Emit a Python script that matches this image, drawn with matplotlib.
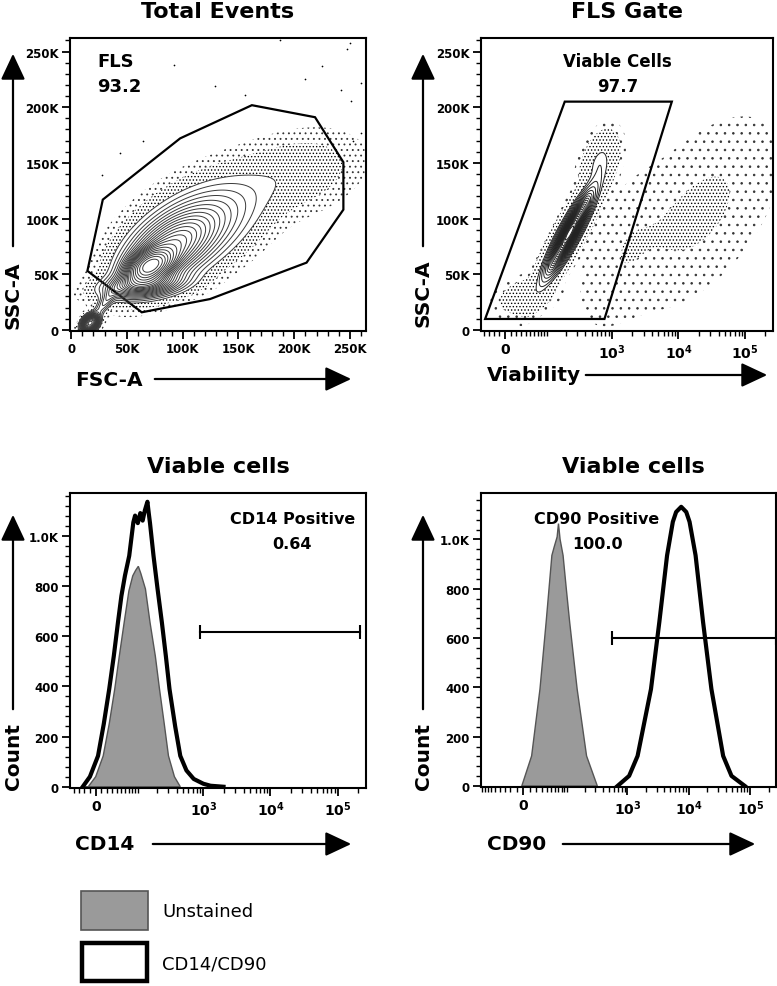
import numpy as np
import matplotlib
matplotlib.use('Agg')
import matplotlib.pyplot as plt
from matplotlib.patches import Rectangle, Polygon, FancyArrowPatch

plt.rcParams['font.family'] = 'DejaVu Sans'
plt.rcParams['mathtext.default'] = 'bf'
plt.rcParams['hatch.color'] = 'black'
plt.rcParams['hatch.linewidth'] = 0.6

W, H = 777, 987

# ---- labels
titles = ['Total Events', 'FLS Gate', 'Viable cells', 'Viable cells']
xlabels = ['FSC-A', 'Viability', 'CD14', 'CD90']
ylabels = ['SSC-A', 'SSC-A', 'Count', 'Count']
gate_names = ['FLS', 'Viable Cells', 'CD14 Positive', 'CD90 Positive']
gate_values = ['93.2', '97.7', '0.64', '100.0']
legend_labels = ['Unstained', 'CD14/CD90']

# ---- scatter axes ticks (in K)
scatter_ticks = [0, 50, 100, 150, 200, 250]
scatter_ticklabels = ['0', '50K', '100K', '150K', '200K', '250K']
biex_ticks = [0, 1e3, 1e4, 1e5]
biex_ticklabels = ['0', '$10^3$', '$10^4$', '$10^5$']
count_ticks = [0, 200, 400, 600, 800, 1000]
count_ticklabels = ['0', '200', '400', '600', '800', '1.0K']

# ---- FLS gate polygon (FSC-A K, SSC-A K)
fls_gate_x = [14.6, 63.3, 124.5, 211, 244, 244, 218.6, 162, 97.7, 28.4]
fls_gate_y = [53, 15.8, 27.7, 60.4, 108, 150.6, 191, 201.8, 172, 117]

# ---- viable gate (Viability, SSC-A K)
viable_gate_x = [-37, 776, 7960, 194]
viable_gate_y = [9.8, 9.8, 205, 205]

# ---- populations seen in FSC/SSC: centre, spread (K), correlation, weight
fsc_cx = [70, 85, 112, 65, 17, 30, 200]
fsc_cy = [57, 70, 92, 40, 6, 24, 140]
fsc_sx = [12, 24, 34, 22, 4.5, 7, 35]
fsc_sy = [9, 20, 26, 7, 4.5, 9, 22]
fsc_r = [0.4, 0.5, 0.5, 0.3, 0.3, 0.8, 0.3]
fsc_w = [0.6, 1.0, 1.1, 0.3, 0.12, 0.03, 0.2]

# ---- populations in Viability/SSC: centre, spread (decades, K), correlation, weight
via_cx = [230, 650, 20000, 40, 1500]
via_cy = [87, 150, 105, 30, 70]
via_su = [0.2, 0.12, 0.6, 0.2, 0.35]
via_sy = [21, 12, 42, 8, 35]
via_r = [0.9, 0.4, 0.55, 0.3, 0.5]
via_w = [1.0, 0.05, 0.04, 0.015, 0.012]

# ---- outlier events
fsc_out_x = [187, 250, 247, 225, 210, 92, 129, 156, 57, 44, 27.5, 64.5, 260, 251, 242, 260, 253]
fsc_out_y = [260, 258, 252, 237, 225, 238, 219, 211, 217, 159, 139, 170, 222, 206, 215, 177, 170]

# ---- histograms
cd14_unst_x = [-20, -13, 0, 13, 24, 35, 45, 57, 70, 82, 92, 102, 112, 133, 157, 190, 220, 260, 301, 370, 453]
cd14_unst_y = [0, 0, 40, 123, 250, 389, 520, 655, 780, 840, 862, 878, 850, 788, 655, 520, 389, 250, 123, 40, 0]
cd14_stain_x = [-23, -10, 4, 14, 24, 33, 42, 50, 59, 71, 84, 90, 100, 110, 120, 130, 143, 150, 157, 178, 205,
                239, 275, 312, 380, 453, 560, 720, 1000, 1280, 2000]
cd14_stain_y = [0, 40, 123, 250, 389, 520, 655, 760, 841, 920, 1053, 1080, 1050, 1090, 1060, 1100, 1135, 1090,
                1050, 920, 790, 655, 520, 389, 240, 123, 65, 31, 12, 4, 0]
cd90_unst_x = [-2, 13, 27, 39, 52, 58, 66, 70, 75, 85, 97, 111, 149, 214, 322]
cd90_unst_y = [0, 122, 393, 665, 935, 970, 1010, 1064, 1000, 935, 800, 665, 393, 122, 0]
cd90_stain_x = [687, 1064, 1462, 2416, 3304, 4416, 5480, 6200, 7500, 9060, 10260, 12860, 17020, 23280, 36140,
                49440, 81660]
cd90_stain_y = [0, 41, 122, 393, 665, 935, 1071, 1111, 1132, 1111, 1071, 935, 665, 393, 122, 41, 0]
cd14_bar_x = [885, 214000]
cd14_bar_y = 617
cd90_bar_x = [569, 262144]
cd90_bar_y = 600

GRAY = '#9a9a9a'


def biex(v, a=50):
    return np.arcsinh(np.asarray(v, float) / a) / np.log(10)


def inv_biex(u, a=50):
    return a * np.sinh(np.asarray(u) * np.log(10))


def mixture(gx, gy, cx, cy, sx, sy, rr, ww):
    z = np.zeros_like(gx)
    for a, b, s, t, r, w in zip(cx, cy, sx, sy, rr, ww):
        dx = (gx - a) / s
        dy = (gy - b) / t
        q = (dx ** 2 - 2 * r * dx * dy + dy ** 2) / (1 - r ** 2)
        z += w / (s * t * np.sqrt(1 - r ** 2)) * np.exp(-q / 2)
    return z


def prob_levels(z, probs):
    zs = np.sort(z.ravel())[::-1]
    c = np.cumsum(zs)
    c /= c[-1]
    return [zs[min(np.searchsorted(c, p), len(zs) - 1)] for p in probs]


def px_rect(left, top, right, bottom):
    return [left / W, 1 - bottom / H, (right - left) / W, (bottom - top) / H]


def ftxt(x, y, s, **kw):
    fig.text(x / W, 1 - y / H, s, **kw)


def farrow(x0, y0, x1, y1):
    fig.add_artist(FancyArrowPatch((x0 / W, 1 - y0 / H), (x1 / W, 1 - y1 / H),
                                   transform=fig.transFigure, arrowstyle='-|>,head_length=1.6,head_width=0.75',
                                   mutation_scale=10, lw=1.6, color='black'))


def dots(ax, x, y, z, lo, hi, pattern, color='black'):
    with plt.rc_context({'hatch.color': color}):
        ax.contourf(x, y, z, levels=[lo, hi], colors='none', hatches=[pattern])


def style_axes(ax, xsize=8.5):
    for s in ax.spines.values():
        s.set_linewidth(1.5)
    ax.tick_params(which='major', direction='out', length=6, width=1.3, labelsize=8.5, pad=2)
    ax.tick_params(axis='x', which='major', labelsize=xsize)
    ax.tick_params(which='minor', direction='out', length=3.5, width=1.0)
    for lab in ax.get_xticklabels() + ax.get_yticklabels():
        lab.set_fontweight('bold')


def biex_axis(ax, a, lo):
    ax.set_xscale('asinh', linear_width=a)
    ax.set_xlim(lo, 262144)
    ax.set_xticks(biex_ticks, biex_ticklabels)
    minors = [-90, -80, -70, -60, -50, -40, -30, -20, -10] + list(range(10, 100, 10)) + \
        [m * 10 ** d for d in (2, 3, 4) for m in range(1, 10) if m * 10 ** d not in biex_ticks] + [200000]
    ax.set_xticks([m for m in minors if m > lo], minor=True)


def scatter_yaxis(ax):
    ax.set_ylim(-1, 262.144)
    ax.set_yticks(scatter_ticks, scatter_ticklabels)
    ax.set_yticks([v for v in range(10, 261, 10) if v % 50], minor=True)


fig = plt.figure(figsize=(W / 100, H / 100), dpi=100)

# ---------------- panel 1: FSC/SSC
ax1 = fig.add_axes(px_rect(70, 39, 365.7, 332))
gx, gy = np.meshgrid(np.linspace(-1, 263, 530), np.linspace(-1, 263, 530))
z1 = mixture(gx, gy, fsc_cx, fsc_cy, fsc_sx, fsc_sy, fsc_r, fsc_w)
lv = prob_levels(z1, [0.99, 0.965, 0.885] + list(np.arange(0.845, 0.02, -0.04)))
dots(ax1, gx, gy, z1, lv[0], lv[1], '...', '#333333')
dots(ax1, gx, gy, z1, lv[1], lv[2], '.....')
ax1.contour(gx, gy, z1, levels=lv[2:], colors='#3a3a3a', linewidths=0.7)
ax1.scatter(fsc_out_x, fsc_out_y, s=1.5, color='black', lw=0)
ax1.add_patch(Polygon(np.column_stack([fls_gate_x, fls_gate_y]), closed=True, fill=False, ec='black', lw=1.6))
ax1.set_xlim(-1, 264)
ax1.set_xticks(scatter_ticks, scatter_ticklabels)
ax1.set_xticks([v for v in range(10, 261, 10) if v % 50], minor=True)
scatter_yaxis(ax1)
style_axes(ax1)

# ---------------- panel 2: Viability/SSC
ax2 = fig.add_axes(px_rect(480.7, 39, 773, 332))
uu, gy2 = np.meshgrid(np.linspace(biex(-50), biex(262144), 560), np.linspace(-1, 263, 530))
z2 = mixture(uu, gy2, biex(via_cx), via_cy, via_su, via_sy, via_r, via_w)
gx2 = inv_biex(uu)
lv2 = prob_levels(z2, [0.997, 0.965, 0.88] + list(np.arange(0.84, 0.02, -0.04)))
dots(ax2, gx2, gy2, z2, lv2[0], lv2[1], '..', '#333333')
dots(ax2, gx2, gy2, z2, lv2[1], lv2[2], '.....')
ax2.contour(gx2, gy2, z2, levels=lv2[2:], colors='#222222', linewidths=0.7)
ax2.add_patch(Polygon(np.column_stack([viable_gate_x, viable_gate_y]), closed=True, fill=False, ec='black', lw=1.6))
biex_axis(ax2, 50, -47)
scatter_yaxis(ax2)
style_axes(ax2, 10)

# ---------------- panel 3: CD14
ax3 = fig.add_axes(px_rect(70, 494, 365.7, 789))
ax3.fill(cd14_unst_x, cd14_unst_y, facecolor=GRAY, edgecolor='#555555', lw=1.0)
ax3.plot(cd14_stain_x, cd14_stain_y, color='black', lw=3.0, solid_joinstyle='round')
ax3.plot(cd14_bar_x, [cd14_bar_y] * 2, color='black', lw=1.5, marker='|', ms=10, mew=1.5)
biex_axis(ax3, 50, -50)
ax3.set_ylim(-5, 1170)
ax3.set_yticks(count_ticks, count_ticklabels)
ax3.set_yticks([v for v in range(40, 1161, 40) if v % 200], minor=True)
style_axes(ax3, 10)

# ---------------- panel 4: CD90
ax4 = fig.add_axes(px_rect(480.7, 494, 776, 788))
ax4.fill(cd90_unst_x, cd90_unst_y, facecolor=GRAY, edgecolor='#555555', lw=1.0)
ax4.plot(cd90_stain_x, cd90_stain_y, color='black', lw=3.0, solid_joinstyle='round')
ax4.plot(cd90_bar_x, [cd90_bar_y] * 2, color='black', lw=1.5, marker='|', ms=10, mew=1.5, clip_on=False)
biex_axis(ax4, 40, -94)
ax4.set_ylim(-4, 1188)
ax4.set_yticks(count_ticks, count_ticklabels)
ax4.set_yticks([v for v in range(40, 1181, 40) if v % 200], minor=True)
style_axes(ax4, 10)

# ---------------- titles, labels, arrows
for (cx, cy), t in zip([(218, 12), (627, 12), (218, 467), (633, 467)], titles):
    ftxt(cx, cy, t, fontsize=16, fontweight='bold', ha='center', va='center')

for (x, y), t in zip([(13, 295), (423, 293), (13, 757), (423, 757)], ylabels):
    ftxt(x, y, t, fontsize=14.5, fontweight='bold', ha='center', va='center', rotation=90)
for x, y0, y1 in [(13, 250, 52), (423, 250, 52), (13, 713, 513), (423, 713, 513)]:
    farrow(x, y0, x, y1)

for (x, y), t in zip([(75, 380), (487, 376), (75, 845), (487, 845)], xlabels):
    ftxt(x, y, t, fontsize=14.5, fontweight='bold', ha='left', va='center')
for y, x0, x1 in [(380, 152, 354), (376, 583, 770), (845, 150, 354), (845, 560, 758)]:
    farrow(x0, y, x1, y)

# gate annotations
ftxt(97, 62, gate_names[0], fontsize=13, fontweight='bold', ha='left', va='center')
ftxt(97, 87, gate_values[0], fontsize=13, fontweight='bold', ha='left', va='center')
ftxt(617, 62, gate_names[1], fontsize=12, fontweight='bold', ha='center', va='center')
ftxt(618, 87, gate_values[1], fontsize=12, fontweight='bold', ha='center', va='center')
ftxt(293, 519, gate_names[2], fontsize=11.5, fontweight='bold', ha='center', va='center')
ftxt(292, 545, gate_values[2], fontsize=11.5, fontweight='bold', ha='center', va='center')
ftxt(597, 519, gate_names[3], fontsize=11.5, fontweight='bold', ha='center', va='center')
ftxt(598, 545, gate_values[3], fontsize=11.5, fontweight='bold', ha='center', va='center')

# legend
fig.add_artist(Rectangle((80.7 / W, 1 - 931 / H), 67.3 / W, 39 / H, transform=fig.transFigure,
                         facecolor=GRAY, edgecolor='#555555', lw=1.2))
fig.add_artist(Rectangle((82 / W, 1 - 982 / H), 65 / W, 38 / H, transform=fig.transFigure,
                         facecolor='white', edgecolor='black', lw=3.2))
ftxt(162, 912, legend_labels[0], fontsize=13, ha='left', va='center')
ftxt(162, 965, legend_labels[1], fontsize=13, ha='left', va='center')

fig.savefig('out.png', dpi=100)
